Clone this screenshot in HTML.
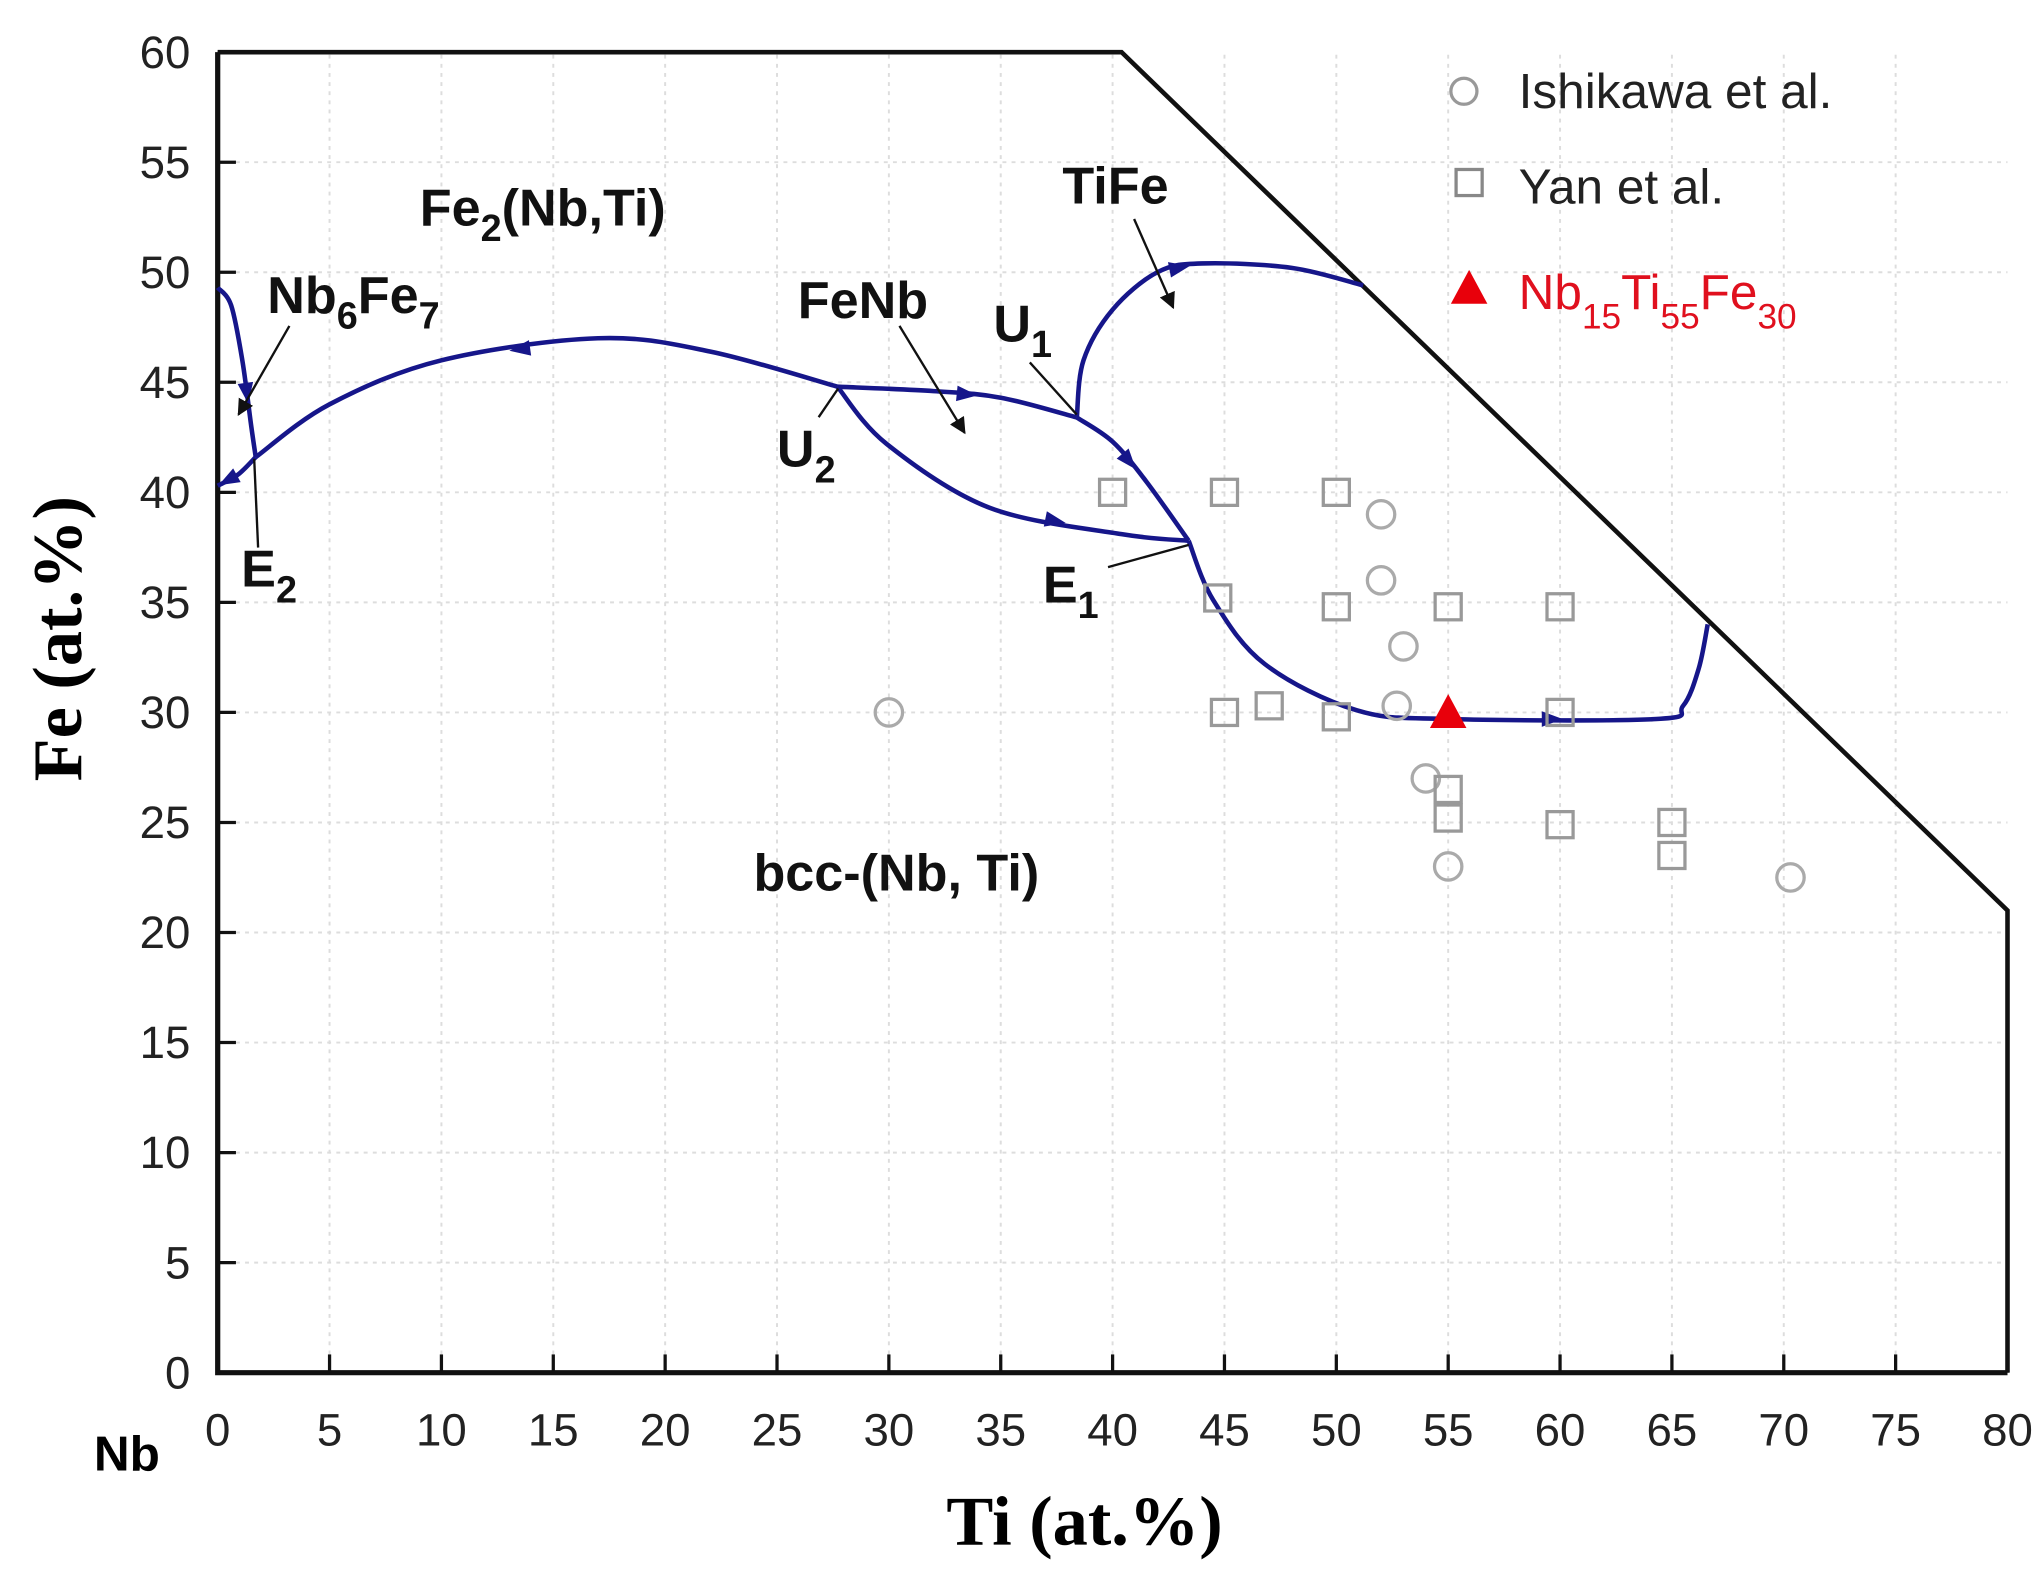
<!DOCTYPE html>
<html><head><meta charset="utf-8"><style>
html,body{margin:0;padding:0;background:#fff;}
svg{display:block;font-family:"Liberation Sans",sans-serif;}
</style></head><body>
<svg id="chart" width="2044" height="1587" viewBox="0 0 1568 1217.4" xmlns="http://www.w3.org/2000/svg">
<defs>
<marker id="arr" viewBox="0 0 10 10" refX="9" refY="5" markerWidth="7" markerHeight="7" orient="auto"><path d="M0,0L10,5L0,10z" fill="#111"/></marker>
</defs>
<g id="grid"></g>
<g id="axes"></g>
<g id="curves"></g>
<g id="points"></g>
<g id="labels"></g>
<g>
 <circle cx="1123" cy="70" r="10" fill="none" stroke="#999" stroke-width="2.5"/>
 <text x="1165" y="83" font-size="38" fill="#222">Ishikawa et al.</text>
 <rect x="1117" y="130" width="20" height="20" fill="none" stroke="#888" stroke-width="2.5"/>
 <text x="1165" y="156" font-size="38" fill="#222">Yan et al.</text>
 <path d="M1113,233L1127,207L1141,233z" fill="#e8000b"/>
 <text x="1165" y="237" font-size="38" fill="#e0101e">Nb<tspan font-size="27" dy="15">15</tspan><tspan dy="-15">Ti</tspan><tspan font-size="27" dy="15">55</tspan><tspan dy="-15">Fe</tspan><tspan font-size="27" dy="15">30</tspan></text>
</g>
<text x="832" y="1185" font-size="54" font-weight="bold" text-anchor="middle" font-family="'Liberation Serif',serif">Ti (at.%)</text>
<text transform="translate(62,490) rotate(-90)" font-size="54" font-weight="bold" text-anchor="middle" font-family="'Liberation Serif',serif">Fe (at.%)</text>
<text x="72" y="1128" font-size="38" font-weight="bold">Nb</text>
</svg>
<script>
const xTicks=[0,5,10,15,20,25,30,35,40,45,50,55,60,65,70,75,80];
const yTicks=[0,5,10,15,20,25,30,35,40,45,50,55,60];
const boundaryTi=[0,40.4,80,80];
const boundaryFe=[60,60,21,0];
const ishikawaTi=[30,52,52,53,52.7,54,55,70.3];
const ishikawaFe=[30,39,36,33,30.3,27,23,22.5];
const yanTi=[40,45,50,44.7,50,55,60,45,47,50,60,55,55,60,65,65];
const yanFe=[40,40,40,35.2,34.8,34.8,34.8,30,30.3,29.8,30,26.5,25.2,24.9,25,23.5];
const alloyTi=[55];
const alloyFe=[30];
const curveA_Ti=[0,0.6,1.1,1.5,1.7];const curveA_Fe=[49.3,48.5,46,43,41.6];
const curveB_Ti=[1.7,0.9,0];const curveB_Fe=[41.6,40.8,40.3];
const curveC_Ti=[27.7,22,17,10,5,1.7];const curveC_Fe=[44.8,46.4,47,46,44,41.6];
const curveD_Ti=[27.7,32,35,38.4];const curveD_Fe=[44.8,44.6,44.3,43.4];
const curveE_Ti=[27.7,29.9,34.5,40.4,43.4];const curveE_Fe=[44.8,42.2,39.3,38.1,37.8];
const curveF_Ti=[38.4,40,41.5,43.4];const curveF_Fe=[43.4,42.3,40.5,37.8];
const curveG_Ti=[38.4,38.7,40,42,44,48,51.2];const curveG_Fe=[43.4,46,48.3,50,50.4,50.2,49.4];
const curveH_Ti=[43.4,44.5,46.8,50.9,55,64.3,65.5,66.2,66.6];const curveH_Fe=[37.8,35.1,32.2,30.1,29.7,29.7,30.3,32,34];
const X=v=>167+v*(1540-167)/80;
const Y=v=>1053-v*(1053-40)/60;
const NS='http://www.w3.org/2000/svg';
function mk(tag,parent,attrs){const e=document.createElementNS(NS,tag);for(const k in attrs)e.setAttribute(k,attrs[k]);parent.appendChild(e);return e;}
const grid=document.getElementById('grid'),axes=document.getElementById('axes');
xTicks.forEach(t=>{
 if(t>0&&t<80){const l=mk('line',grid,{x1:X(t),x2:X(t),y1:Y(0),y2:Y(60),stroke:'#ddd','stroke-dasharray':'3,4','stroke-width':1.5});
 }
 const tk=mk('line',axes,{x1:X(t),x2:X(t),y1:Y(0),y2:Y(0)-14,stroke:'#111','stroke-width':2.5});
 
 const tx=mk('text',axes,{x:X(t),y:1109,'font-size':35,'text-anchor':'middle',fill:'#222'});tx.textContent=t;
 
});
yTicks.forEach(t=>{
 if(t>0&&t<60){const l=mk('line',grid,{x1:X(0),x2:X(80),y1:Y(t),y2:Y(t),stroke:'#ddd','stroke-dasharray':'3,4','stroke-width':1.5});
 }
 const tk=mk('line',axes,{x1:X(0),x2:X(0)+14,y1:Y(t),y2:Y(t),stroke:'#111','stroke-width':2.5});
 
 const tx=mk('text',axes,{x:146,y:Y(t)+12,'font-size':35,'text-anchor':'end',fill:'#222'});tx.textContent=t;
 
});
const ax=mk('path',axes,{d:`M${X(0)},${Y(60)}L${X(0)},${Y(0)}L${X(80)},${Y(0)}`,fill:'none',stroke:'#111','stroke-width':4});

const bd=mk('path',axes,{d:boundaryTi.map((t,i)=>(i?'L':'M')+X(t)+','+Y(boundaryFe[i])).join(''),fill:'none',stroke:'#111','stroke-width':3.5});

function smooth(xs,ys){const p=xs.map((x,i)=>[X(x),Y(ys[i])]);let d='M'+p[0];
 for(let i=0;i<p.length-1;i++){const p0=p[i-1]||p[i],p1=p[i],p2=p[i+1],p3=p[i+2]||p2;
 d+='C'+(p1[0]+(p2[0]-p0[0])/6)+','+(p1[1]+(p2[1]-p0[1])/6)+' '+(p2[0]-(p3[0]-p1[0])/6)+','+(p2[1]-(p3[1]-p1[1])/6)+' '+p2[0]+','+p2[1];}
 return d;}
const curves=document.getElementById('curves');
[[curveA_Ti,curveA_Fe,'curve-nb6fe7'],[curveB_Ti,curveB_Fe,'curve-e2-left'],[curveC_Ti,curveC_Fe,'curve-fe2-bcc'],[curveD_Ti,curveD_Fe,'curve-u2-u1'],[curveE_Ti,curveE_Fe,'curve-u2-e1'],[curveF_Ti,curveF_Fe,'curve-u1-e1'],[curveG_Ti,curveG_Fe,'curve-tife'],[curveH_Ti,curveH_Fe,'curve-e1-bcc']].forEach(c=>{
 const p=mk('path',curves,{d:smooth(c[0],c[1]),fill:'none',stroke:'#16168a','stroke-width':3.5});
 
 const n=c[0].length,i=Math.floor((n-1)/2);
 const x1=X(c[0][i]),y1=Y(c[1][i]),x2=X(c[0][i+1]),y2=Y(c[1][i+1]);
 const mx=(x1+x2)/2,my=(y1+y2)/2,a=Math.atan2(y2-y1,x2-x1)*180/Math.PI;
 const h=mk('path',curves,{d:'M8,0L-8,-6L-8,6z',fill:'#16168a',transform:`translate(${mx},${my}) rotate(${a})`});
 
});
const pts=document.getElementById('points');
ishikawaTi.forEach((t,i)=>{const c=mk('circle',pts,{cx:X(t),cy:Y(ishikawaFe[i]),r:10.5,fill:'none',stroke:'#aaa','stroke-width':2.5});
 });
yanTi.forEach((t,i)=>{const r=mk('rect',pts,{x:X(t)-10,y:Y(yanFe[i])-10,width:20,height:20,fill:'none',stroke:'#999','stroke-width':2.5});
 });
alloyTi.forEach((t,i)=>{const x=X(t),y=Y(alloyFe[i]);const p=mk('path',pts,{d:`M${x-14},${y+12}L${x},${y-14}L${x+14},${y+12}z`,fill:'#e8000b'});
 });
const L=document.getElementById('labels');
function lab(x,y,html,name,size){const t=mk('text',L,{x:x,y:y,'font-size':size||40,'font-weight':'bold',fill:'#111'});t.innerHTML=html;
 }
function ln(x1,y1,x2,y2,arrow,name){const l=mk('line',L,{x1,y1,x2,y2,stroke:'#111','stroke-width':1.8});if(arrow)l.setAttribute('marker-end','url(#arr)');
 }
lab(322,173,'Fe<tspan font-size="29" dy="12">2</tspan><tspan dy="-12">(Nb,Ti)</tspan>','label-fe2-nbti');
lab(205,240,'Nb<tspan font-size="29" dy="12">6</tspan><tspan dy="-12">Fe</tspan><tspan font-size="29" dy="12">7</tspan>','label-nb6fe7');
lab(815,156,'TiFe','label-tife');
lab(612,244,'FeNb','label-fenb');
lab(762,262,'U<tspan font-size="29" dy="12">1</tspan>','label-u1');
lab(596,358,'U<tspan font-size="29" dy="12">2</tspan>','label-u2');
lab(185,450,'E<tspan font-size="29" dy="12">2</tspan>','label-e2');
lab(800,462,'E<tspan font-size="29" dy="12">1</tspan>','label-e1');
lab(578,683,'bcc-(Nb, Ti)','label-bcc');
ln(870,168,900,236,true,'tife-arrow');
ln(690,250,740,332,true,'fenb-arrow');
ln(222,250,183,318,true,'nb6fe7-arrow');
ln(790,278,826,318,false,'u1-leader');
ln(628,320,643,298,false,'u2-leader');
ln(198,420,195,352,false,'e2-leader');
ln(850,435,912,418,false,'e1-leader');
</script>
</body></html>
